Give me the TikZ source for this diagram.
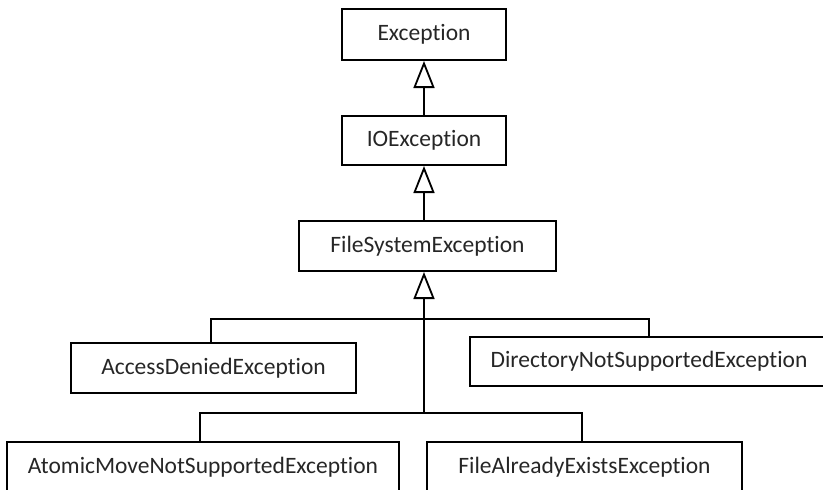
\documentclass[tikz,border=0pt]{standalone}
\usepackage{fontspec}
\setmainfont[Ligatures=NoCommon]{Carlito}
\usetikzlibrary{arrows.meta}
\begin{document}
\begin{tikzpicture}[x=1pt,y=-1pt,
  cls/.style={draw, line width=2pt, inner sep=0pt, font=\fontsize{23.5}{26}\selectfont, text=black!85},
  conn/.style={line width=2pt},
  inh/.style={line width=2pt, -{Triangle[open, length=27pt, width=21pt, line width=1.8pt]}}]
\useasboundingbox (0,0) rectangle (823,490);
\clip (0,0) rectangle (823,490);
\node[cls, minimum width=164pt, minimum height=51pt] (E) at (424,34.5) {Exception};
\node[cls, minimum width=164pt, minimum height=49pt] (IO) at (424,140.5) {IOException};
\node[cls, minimum width=257pt, minimum height=50pt] (FS) at (427.5,246) {FileSystemException};
\node[cls, minimum width=285pt, minimum height=50pt] (AD) at (213.5,368) {AccessDeniedException};
\node[cls, minimum width=358pt, minimum height=49pt] (DN) at (649,361.5) {DirectoryNotSupportedException};
\node[cls, minimum width=392pt, minimum height=50pt] (AM) at (203,467) {AtomicMoveNotSupportedException};
\node[cls, minimum width=315pt, minimum height=50pt] (FA) at (584.5,467) {FileAlreadyExistsException};
\coordinate (j1) at (424,319);
\coordinate (j2) at (424,413);
\draw[inh] (IO.north) -- (E.south);
\draw[inh] (FS.north -| IO.south) -- (IO.south);
\draw[inh] (j2) -- (FS.south -| j2);
\draw[conn] ([xshift=-2.5pt]AD.north) |- (j1);
\draw[conn] (DN.north) |- (j1);
\draw[conn] ([xshift=-3pt]AM.north) |- (j2);
\draw[conn] ([xshift=-2.5pt]FA.north) |- (j2);
\end{tikzpicture}
\end{document}
